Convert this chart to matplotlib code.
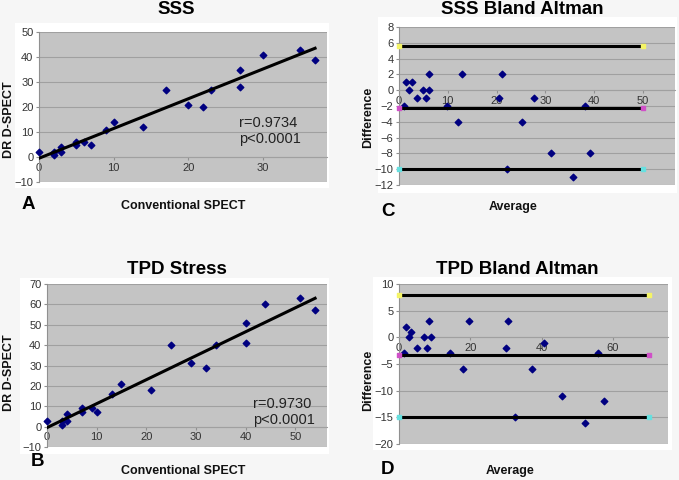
import numpy as np
import matplotlib.pyplot as plt
from matplotlib.patches import Rectangle

plt.rcParams['font.family'] = ['Liberation Sans', 'DejaVu Sans']

# A: SSS
sss_conv = [0, 2, 2, 3, 3, 5, 5, 6, 7, 9, 10, 14, 17, 20, 22, 23, 27, 27, 30, 35, 37]
sss_dr = [2, 1, 2, 2, 4, 5, 6, 6, 5, 11, 14, 12, 27, 21, 20, 27, 28, 35, 41, 43, 39]
sss_fit_x = [0, 37]
sss_fit_y = [-0.5, 43.5]

# B: TPD stress
tpd_conv = [0, 3, 3, 4, 4, 7, 7, 9, 10, 13, 15, 21, 25, 29, 32, 34, 40, 40, 44, 51, 54]
tpd_dr = [3, 1, 3, 3, 6, 7, 9, 9, 7, 16, 21, 18, 40, 31, 29, 40, 41, 51, 60, 63, 57]
tpd_fit_x = [0, 54]
tpd_fit_y = [-0.5, 63]

# C: SSS Bland Altman
sss_avg = [1.1, 1.5, 2.1, 2.7, 3.6, 5.0, 5.5, 6.1, 6.2, 9.9, 12.1, 13.0, 20.6, 21.2,
           22.1, 25.2, 27.6, 31.2, 35.6, 38.2, 39.2]
sss_diff = [-2, 1, 0, 1, -1, 0, -1, 2, 0, -2, -4, 2, -1, 2, -10, -4, -1, -8, -11, -2, -8]
sss_limits = [5.6, -2.2, -10.0]
sss_line_x = [0, 50]

# D: TPD Bland Altman
tpd_avg = [1.4, 1.9, 2.9, 3.3, 5.0, 6.9, 7.9, 8.4, 8.9, 14.4, 18.0, 19.6, 30.1, 30.6,
           32.6, 37.2, 40.7, 45.8, 52.2, 55.9, 57.4]
tpd_diff = [-3, 2, 0, 1, -2, 0, -2, 3, 0, -3, -6, 3, -2, 3, -15, -6, -1, -11, -16, -3, -12]
tpd_limits = [8.0, -3.3, -14.9]
tpd_line_x = [0, 70]

end_colors = ['#f4f466', '#d050c8', '#66e0e0']

fig = plt.figure(figsize=(6.79, 4.80), dpi=100)
fig.patch.set_facecolor('#f6f6f6')

W, H = 679, 480


def px_axes(l, t, r, b):
    return fig.add_axes([l / W, 1 - b / H, (r - l) / W, (b - t) / H])


def white_box(l, t, r, b):
    fig.patches.append(Rectangle((l / W, 1 - b / H), (r - l) / W, (b - t) / H,
                                 transform=fig.transFigure, facecolor='white',
                                 edgecolor='none', zorder=-5))


def fig_text(x, y, s, **kw):
    fig.text(x / W, 1 - y / H, s, ha='center', va='center', **kw)


def style(ax, xlim, ylim, xticks, yticks):
    ax.set_facecolor('#c4c4c4')
    ax.set_xlim(xlim)
    ax.set_ylim(ylim)
    ax.set_xticks(xticks)
    ax.set_yticks(yticks)
    ax.yaxis.grid(True, color='#a0a0a0', linewidth=0.8)
    ax.set_axisbelow(True)
    for s in ['top', 'right']:
        ax.spines[s].set_visible(False)
    ax.spines['left'].set_color('#909090')
    ax.spines['left'].set_linewidth(0.8)
    ax.spines['bottom'].set_position(('data', 0))
    ax.spines['bottom'].set_color('#a0a0a0')
    ax.spines['bottom'].set_linewidth(0.8)
    ax.tick_params(axis='x', length=2, color='#909090', pad=2,
                   labelsize=8, labelcolor='#333333')
    ax.tick_params(axis='y', length=2, color='#909090', pad=2,
                   labelsize=8, labelcolor='#333333')


# panel A
white_box(15, 23, 329, 188)
axA = px_axes(39, 32, 327, 182)
style(axA, (0, 38.6), (-10, 50), [0, 10, 20, 30], range(-10, 51, 10))
axA.scatter(sss_conv, sss_dr, marker='D', s=11, color='#000080', zorder=3, clip_on=False)
axA.plot(sss_fit_x, sss_fit_y, color='black', linewidth=2.2, zorder=4)
axA.text(26.8, 10.5, 'r=0.9734\np<0.0001', fontsize=10.5, color='#222222',
         va='center', ha='left', linespacing=1.2)

# panel B
white_box(20, 278, 329, 454)
axB = px_axes(47, 284, 327, 447)
style(axB, (0, 56.4), (-10, 70), [0, 10, 20, 30, 40, 50], range(-10, 71, 10))
axB.scatter(tpd_conv, tpd_dr, marker='D', s=11, color='#000080', zorder=3, clip_on=False)
axB.plot(tpd_fit_x, tpd_fit_y, color='black', linewidth=2.2, zorder=4)
axB.text(41.5, 7, 'r=0.9730\np<0.0001', fontsize=10.5, color='#222222',
         va='center', ha='left', linespacing=1.2)

# panel C
white_box(378, 17, 677, 193)
axC = px_axes(399, 27, 675, 185)
style(axC, (0, 56.6), (-12, 8), [0, 10, 20, 30, 40, 50], range(-12, 9, 2))
axC.scatter(sss_avg, sss_diff, marker='D', s=11, color='#000080', zorder=3, clip_on=False)
for yv, c in zip(sss_limits, end_colors):
    axC.plot(sss_line_x, [yv, yv], color='black', linewidth=2.2, zorder=4)
    axC.scatter(sss_line_x, [yv, yv], marker='s', s=10, color=c, zorder=5, clip_on=False)

# panel D
white_box(373, 277, 672, 450)
axD = px_axes(399, 284, 668, 444)
style(axD, (0, 75.4), (-20, 10), [0, 20, 40, 60], range(-20, 11, 5))
axD.scatter(tpd_avg, tpd_diff, marker='D', s=11, color='#000080', zorder=3, clip_on=False)
for yv, c in zip(tpd_limits, end_colors):
    axD.plot(tpd_line_x, [yv, yv], color='black', linewidth=2.2, zorder=4)
    axD.scatter(tpd_line_x, [yv, yv], marker='s', s=10, color=c, zorder=5, clip_on=False)

# titles and labels
title_kw = dict(fontsize=13.5, fontweight='bold', color='black')
fig_text(176, 10, 'SSS', **title_kw)
fig_text(522, 10, 'SSS Bland Altman', **title_kw)
fig_text(177, 269, 'TPD Stress', **title_kw)
fig_text(517, 269, 'TPD Bland Altman', **title_kw)

lab_kw = dict(fontsize=9, fontweight='bold', color='#111111')
fig_text(183, 206, 'Conventional SPECT', **lab_kw)
fig_text(183, 471, 'Conventional SPECT', **lab_kw)
fig_text(513, 207, 'Average', **lab_kw)
fig_text(510, 471, 'Average', **lab_kw)
fig_text(9, 120, 'DR D-SPECT', rotation=90, **lab_kw)
fig_text(9, 373, 'DR D-SPECT', rotation=90, **lab_kw)
fig_text(368, 117, 'Difference', rotation=90, **lab_kw)
fig_text(368, 380, 'Difference', rotation=90, **lab_kw)

letter_kw = dict(fontsize=13.5, fontweight='bold', color='black')
fig_text(28, 205, 'A', **letter_kw)
fig_text(38, 462, 'B', **letter_kw)
fig_text(388, 211, 'C', **letter_kw)
fig_text(388, 470, 'D', **letter_kw)

fig.savefig('out.png', dpi=100, facecolor=fig.get_facecolor())
